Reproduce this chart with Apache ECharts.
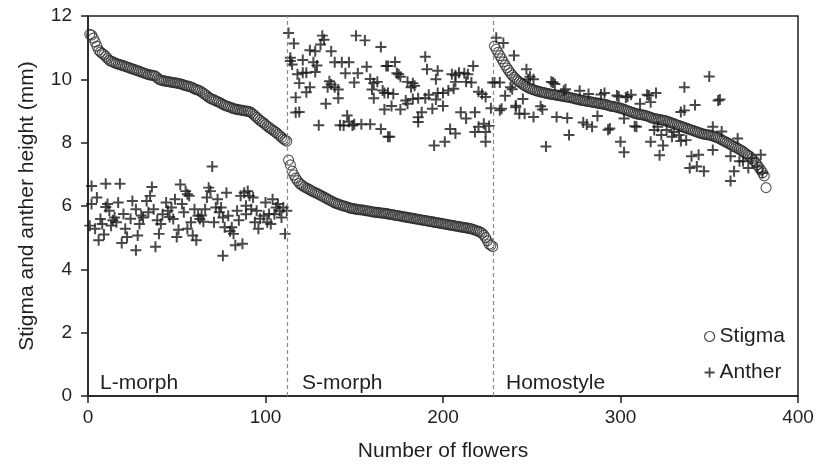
<!DOCTYPE html>
<html>
<head>
<meta charset="utf-8">
<script src="https://cdn.jsdelivr.net/npm/echarts@6/dist/echarts.min.js"></script>
<style>
  html, body { margin: 0; padding: 0; background: #fff; }
  #chart { width: 819px; height: 467px; }
</style>
</head>
<body>
<div id="chart"></div>
<script>
// stigma heights, sorted within each morph (flower index starts at 1, 113, 229)
const stigmaL = [
  11.42, 11.40, 11.30, 11.18, 11.05, 10.92, 10.86, 10.82, 10.78, 10.72,
  10.66, 10.60, 10.57, 10.55, 10.52, 10.50, 10.48, 10.46, 10.45, 10.43,
  10.41, 10.39, 10.37, 10.35, 10.33, 10.31, 10.29, 10.27, 10.25, 10.23,
  10.21, 10.19, 10.17, 10.15, 10.14, 10.13, 10.12, 10.10, 10.05, 10.00,
  9.98, 9.96, 9.95, 9.94, 9.93, 9.92, 9.91, 9.90, 9.89, 9.88,
  9.87, 9.86, 9.84, 9.82, 9.80, 9.79, 9.78, 9.76, 9.73, 9.70,
  9.68, 9.66, 9.64, 9.60, 9.56, 9.52, 9.48, 9.43, 9.40, 9.37,
  9.35, 9.32, 9.30, 9.27, 9.24, 9.21, 9.18, 9.16, 9.14, 9.12,
  9.10, 9.08, 9.06, 9.05, 9.04, 9.03, 9.02, 9.01, 9.00, 8.99,
  8.98, 8.95, 8.90, 8.85, 8.80, 8.75, 8.70, 8.66, 8.62, 8.57,
  8.52, 8.48, 8.44, 8.40, 8.36, 8.32, 8.27, 8.22, 8.17, 8.12,
  8.08, 8.05
]
const stigmaS = [
  7.45, 7.30, 7.10, 6.98, 6.88, 6.80, 6.72, 6.68, 6.64, 6.60,
  6.57, 6.54, 6.51, 6.48, 6.45, 6.42, 6.40, 6.37, 6.34, 6.31,
  6.28, 6.25, 6.22, 6.19, 6.16, 6.13, 6.10, 6.08, 6.06, 6.04,
  6.02, 6.00, 5.99, 5.97, 5.95, 5.93, 5.92, 5.91, 5.90, 5.89,
  5.88, 5.88, 5.87, 5.86, 5.85, 5.84, 5.83, 5.82, 5.81, 5.80,
  5.80, 5.79, 5.78, 5.78, 5.77, 5.76, 5.75, 5.74, 5.73, 5.72,
  5.71, 5.70, 5.69, 5.68, 5.67, 5.66, 5.65, 5.64, 5.63, 5.62,
  5.61, 5.60, 5.59, 5.58, 5.57, 5.56, 5.55, 5.54, 5.53, 5.52,
  5.51, 5.50, 5.49, 5.48, 5.47, 5.46, 5.45, 5.44, 5.43, 5.42,
  5.41, 5.40, 5.39, 5.38, 5.37, 5.36, 5.35, 5.34, 5.33, 5.32,
  5.31, 5.30, 5.29, 5.28, 5.26, 5.24, 5.22, 5.20, 5.18, 5.14,
  5.08, 5.00, 4.90, 4.80, 4.76, 4.72
]
const stigmaH = [
  11.05, 10.95, 10.85, 10.75, 10.65, 10.55, 10.45, 10.36, 10.28, 10.20,
  10.13, 10.07, 10.01, 9.96, 9.92, 9.88, 9.84, 9.80, 9.77, 9.74,
  9.71, 9.69, 9.67, 9.65, 9.63, 9.62, 9.60, 9.59, 9.58, 9.56,
  9.55, 9.54, 9.53, 9.52, 9.51, 9.50, 9.49, 9.48, 9.47, 9.46,
  9.45, 9.44, 9.43, 9.42, 9.41, 9.39, 9.38, 9.37, 9.35, 9.34,
  9.33, 9.32, 9.31, 9.30, 9.29, 9.28, 9.27, 9.26, 9.25, 9.24,
  9.23, 9.22, 9.21, 9.20, 9.18, 9.16, 9.15, 9.14, 9.13, 9.12,
  9.10, 9.09, 9.07, 9.05, 9.03, 9.01, 8.99, 8.97, 8.95, 8.93,
  8.91, 8.90, 8.89, 8.88, 8.87, 8.86, 8.84, 8.82, 8.80, 8.78,
  8.76, 8.75, 8.74, 8.73, 8.72, 8.71, 8.70, 8.68, 8.66, 8.64,
  8.62, 8.60, 8.58, 8.56, 8.54, 8.52, 8.50, 8.48, 8.46, 8.44,
  8.42, 8.40, 8.38, 8.36, 8.34, 8.32, 8.30, 8.28, 8.27, 8.26,
  8.25, 8.24, 8.23, 8.21, 8.19, 8.17, 8.15, 8.12, 8.09, 8.06,
  8.03, 8.00, 7.97, 7.94, 7.91, 7.88, 7.85, 7.82, 7.79, 7.76,
  7.72, 7.68, 7.64, 7.60, 7.56, 7.50, 7.44, 7.38, 7.30, 7.22,
  7.14, 7.05, 6.95, 6.58
]

// anther heights: [flower number, height]
const antherL = [
  [2,6.63],[10,6.70],[18,6.70],[5,6.27],[2,6.06],[1,5.38],[4,5.28],[7,5.59],[8,5.43],[6,4.92],
  [9,5.10],[11,6.06],[12,5.85],[13,5.38],[15,5.64],[16,5.49],[17,6.11],[21,5.28],[22,5.02],[19,4.83],
  [25,6.16],[27,5.90],[28,5.07],[27,4.60],[29,5.43],[31,5.64],[33,6.16],[35,6.32],[36,6.60],[37,5.90],
  [34,5.80],[40,5.12],[38,4.71],[41,5.43],[44,6.11],[42,5.74],[45,5.85],[48,5.59],[49,6.21],[50,5.02],
  [51,5.25],[53,6.06],[52,6.68],[55,6.47],[56,6.37],[70,7.25],[57,6.32],[60,5.90],[62,5.69],[63,5.59],
  [58,5.49],[56,5.28],[59,5.07],[61,4.92],[68,6.58],[69,6.47],[67,6.27],[66,5.90],[73,6.21],[72,5.95],
  [71,5.49],[74,5.80],[76,5.64],[78,6.42],[79,5.69],[77,5.33],[81,5.33],[82,5.12],[83,4.76],[87,4.81],
  [76,4.43],[84,5.85],[86,6.32],[88,6.42],[90,6.47],[91,6.32],[93,6.27],[89,6.01],[89,5.74],[92,5.90],
  [95,5.85],[94,5.49],[96,5.28],[99,5.69],[100,6.11],[101,5.49],[103,5.43],[104,6.21],[105,5.74],[107,6.06],
  [108,5.85],[109,5.64],[110,5.95],[111,5.12],[10,5.97],[14,5.55],[20,5.75],[24,5.60],[30,5.70],[39,5.55],
  [46,5.65],[47,5.95],[54,5.80],[64,5.70],[65,5.50],[75,5.95],[80,5.20],[85,5.55],[97,5.60],[102,5.75],
  [106,5.95],[112,5.85]
]
const antherS = [
  [113,11.46],[116,11.13],[114,10.68],[115,10.47],[114,10.58],[132,11.38],[133,11.25],[131,11.10],[125,10.92],[128,10.89],
  [137,10.89],[151,11.38],[156,11.23],[165,11.02],[121,10.61],[127,10.54],[129,10.44],[139,10.54],[143,10.54],[147,10.54],
  [157,10.40],[168,10.42],[121,10.21],[123,10.21],[128,10.23],[145,10.19],[152,10.19],[150,9.90],[119,9.88],[125,9.75],
  [123,9.59],[136,9.94],[137,9.84],[135,9.75],[139,9.75],[141,9.68],[141,9.40],[117,9.43],[134,9.23],[117,8.95],
  [159,10.01],[161,9.88],[163,9.92],[160,9.68],[161,9.40],[166,9.65],[167,9.57],[167,9.05],[146,8.86],[147,8.66],
  [130,8.55],[142,8.55],[144,8.54],[149,8.54],[150,8.58],[154,8.58],[159,8.58],[165,8.43],[169,8.19],[118,10.16],
  [169,10.42],[173,10.55],[190,10.71],[174,10.19],[176,10.08],[175,10.16],[180,9.92],[183,9.88],[182,9.75],[184,9.80],
  [191,10.32],[197,10.27],[196,10.00],[205,10.16],[207,10.13],[209,10.21],[212,10.19],[214,10.16],[217,10.42],[207,9.92],
  [213,9.92],[216,9.90],[169,9.57],[172,9.54],[171,9.16],[176,9.05],[179,9.33],[180,9.23],[183,9.38],[186,9.40],
  [190,9.40],[192,9.51],[196,9.36],[197,9.57],[200,9.57],[203,9.65],[206,9.70],[200,9.16],[194,9.07],[188,8.96],
  [186,8.80],[186,8.65],[170,8.19],[210,8.96],[213,8.76],[218,8.96],[220,9.61],[222,9.54],[224,9.44],[204,8.43],
  [207,8.29],[218,8.34],[220,8.50],[223,8.60],[226,8.53],[224,8.34],[224,8.03],[201,8.03],[195,7.91],[227,9.09],
  [228,9.90],[119,8.97]
]
const antherH = [
  [230,11.31],[234,11.15],[240,10.75],[247,10.32],[249,10.08],[251,10.00],[229,9.90],[232,9.90],[239,9.69],[235,9.48],
  [245,9.38],[241,9.12],[243,8.91],[246,8.91],[251,8.81],[255,9.15],[256,9.05],[232,9.02],[262,9.90],[263,9.85],
  [269,9.69],[277,9.64],[282,9.54],[291,9.57],[299,9.46],[304,9.46],[264,8.81],[270,8.78],[271,8.24],[258,7.88],
  [279,8.64],[281,8.57],[284,8.50],[287,8.84],[294,8.45],[300,8.03],[302,7.70],[302,8.76],[306,9.51],[315,9.51],
  [320,9.57],[317,9.28],[311,9.23],[336,9.75],[350,10.09],[355,9.33],[356,9.36],[342,9.19],[334,8.97],[336,9.02],
  [309,8.50],[319,8.40],[321,8.50],[323,8.24],[326,8.40],[329,8.19],[317,8.03],[324,7.91],[322,7.60],[334,8.05],
  [337,8.08],[340,7.57],[344,7.62],[352,7.77],[339,7.20],[343,7.25],[347,7.10],[352,8.50],[357,8.35],[362,7.57],
  [367,7.41],[366,8.13],[364,7.10],[362,6.79],[369,7.41],[374,7.51],[379,7.62],[377,7.25],[372,7.20],[380,7.04],
  [293,8.41],[308,8.52],[316,9.49],[261,9.92],[268,9.64],[289,9.52],[298,9.49],[303,9.43],[330,8.34],[333,8.24],
  [238,9.75],[241,9.17],[248,10.00],[233,9.07]
]

const morphBounds = [112.5, 228.5]
const xTicks = { min: 0, max: 400, step: 100 }
const yTicks = { min: 0, max: 12, step: 2 }

const FONT = 'Liberation Sans, Arial, Helvetica, sans-serif'
const INK = '#231f20'

// 给每组柱头数据加上花朵编号
function withIndex(values, start) {
  return values.map((v, i) => [start + i, v])
}
const stigmaData = [].concat(
  withIndex(stigmaL, 1),
  withIndex(stigmaS, 1 + stigmaL.length),
  withIndex(stigmaH, 1 + stigmaL.length + stigmaS.length)
)
const antherData = [].concat(antherL, antherS, antherH)

const plusPath = 'path://M4.1,0h1.8v10h-1.8z M0,4.1h10v1.8h-10z'

const chart = echarts.init(document.getElementById('chart'))
const option = {
  animation: false,
  backgroundColor: '#fff',
  textStyle: { fontFamily: FONT },
  grid: {
    left: 88, right: 21, top: 16, bottom: 66,
    show: true, borderColor: INK, borderWidth: 1.5, backgroundColor: 'transparent'
  },
  legend: {
    orient: 'vertical',
    left: 699, top: 321,
    itemWidth: 10, itemHeight: 10, itemGap: 15,
    textStyle: { fontSize: 21, color: INK, fontFamily: FONT, lineHeight: 21 },
    data: [
      { name: 'Stigma', itemStyle: { color: 'transparent', borderColor: INK, borderWidth: 1.2 } },
      { name: 'Anther' }
    ]
  },
  xAxis: {
    type: 'value',
    min: xTicks.min, max: xTicks.max, interval: xTicks.step,
    name: 'Number of flowers',
    nameLocation: 'middle', nameGap: 45,
    nameTextStyle: { fontSize: 21, color: INK, fontFamily: FONT },
    axisLine: { lineStyle: { color: INK, width: 1.5 } },
    axisTick: { show: true, length: 7, lineStyle: { color: INK, width: 1.5 } },
    axisLabel: { fontSize: 19, color: INK, margin: 12, fontFamily: FONT },
    splitLine: { show: false }
  },
  yAxis: {
    type: 'value',
    min: yTicks.min, max: yTicks.max, interval: yTicks.step,
    name: 'Stigma and anther height (mm)',
    nameLocation: 'middle', nameGap: 50,
    nameTextStyle: { fontSize: 21, color: INK, fontFamily: FONT },
    axisLine: { lineStyle: { color: INK, width: 1.5 } },
    axisTick: { show: true, length: 7, lineStyle: { color: INK, width: 1.5 } },
    axisLabel: { fontSize: 19, color: INK, margin: 16, fontFamily: FONT },
    splitLine: { show: false }
  },
  graphic: [
    { type: 'text', left: 100, top: 373, style: { text: 'L-morph', font: '21px ' + FONT, fill: INK } },
    { type: 'text', left: 302, top: 373, style: { text: 'S-morph', font: '21px ' + FONT, fill: INK } },
    { type: 'text', left: 506, top: 373, style: { text: 'Homostyle', font: '21px ' + FONT, fill: INK } }
  ],
  series: [
    {
      name: 'Stigma',
      type: 'scatter',
      data: stigmaData,
      symbol: 'circle',
      symbolSize: 10,
      itemStyle: { color: 'transparent', borderColor: '#2a2a2a', borderWidth: 1.1 },
      markLine: {
        silent: true,
        symbol: 'none',
        label: { show: false },
        lineStyle: { color: '#8a8a8a', type: [4, 3], width: 1.2 },
        data: morphBounds.map((x) => ({ xAxis: x }))
      },
      z: 2
    },
    {
      name: 'Anther',
      type: 'scatter',
      data: antherData,
      symbol: plusPath,
      symbolSize: 11,
      itemStyle: { color: '#1a1a1a' },
      z: 3
    }
  ]
}
chart.setOption(option)
</script>
</body>
</html>
